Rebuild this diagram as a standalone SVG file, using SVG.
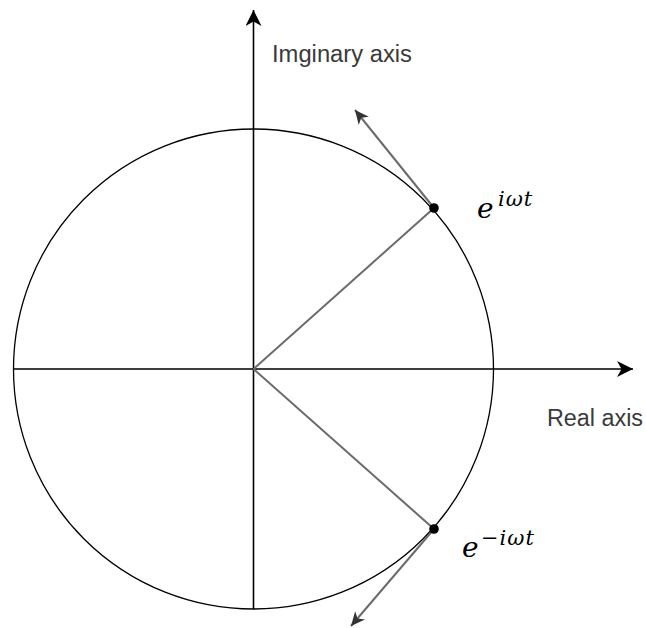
<svg xmlns="http://www.w3.org/2000/svg" width="646" height="628" viewBox="0 0 646 628">
  <style>
    .axis { stroke: #000; stroke-width: 1.6; fill: none; }
    .ray { stroke: #6b6b6b; stroke-width: 2; fill: none; }
    .lbl { font-family: "Liberation Sans", Arial, sans-serif; font-size: 23px; fill: #3a3a3a; }
    .math { font-family: "DejaVu Serif", serif; font-style: italic; fill: #000; }
    .sup { font-size: 21px; letter-spacing: 1px; }
  </style>
  <defs>
    <marker id="axhead" viewBox="0 0 16 16" refX="16" refY="8" markerWidth="16" markerHeight="16" markerUnits="userSpaceOnUse" orient="auto">
      <path d="M16,8 L0,0 L4.5,8 L0,16 Z" fill="#000"/>
    </marker>
    <marker id="rayhead" viewBox="0 0 14 13" refX="14" refY="6.5" markerWidth="14" markerHeight="13" markerUnits="userSpaceOnUse" orient="auto">
      <path d="M14,6.5 L0,0 L4,6.5 L0,13 Z" fill="#333"/>
    </marker>
  </defs>

  <g id="unit-circle">
    <circle cx="253.5" cy="369" r="240" fill="none" stroke="#000" stroke-width="1.3"/>
  </g>

  <g id="connectors">
    <line class="axis" x1="13.5" y1="369" x2="633" y2="369" marker-end="url(#axhead)"/>
    <line class="axis" x1="253.5" y1="609" x2="253.5" y2="10" marker-end="url(#axhead)"/>
    <line class="ray" x1="253.5" y1="369" x2="434" y2="208"/>
    <line class="ray" x1="253.5" y1="369" x2="434" y2="529"/>
    <line class="ray" x1="434" y1="208" x2="355" y2="110" marker-end="url(#rayhead)"/>
    <line class="ray" x1="434" y1="529" x2="351" y2="626" marker-end="url(#rayhead)"/>
  </g>

  <g id="point-positive">
    <circle cx="434" cy="208" r="4.8" fill="#000"/>
    <text class="math" x="477" y="218" font-size="28">e</text>
    <text class="math sup" x="498" y="206">iωt</text>
  </g>

  <g id="point-negative">
    <circle cx="434" cy="529" r="4.8" fill="#000"/>
    <text class="math" x="462" y="557" font-size="28">e</text>
    <text class="math sup" x="481" y="545">−iωt</text>
  </g>

  <g id="imag-label">
    <text class="lbl" x="272" y="62" textLength="140" lengthAdjust="spacingAndGlyphs">Imginary axis</text>
  </g>
  <g id="real-label">
    <text class="lbl" x="547" y="426" textLength="96" lengthAdjust="spacingAndGlyphs">Real axis</text>
  </g>
</svg>
